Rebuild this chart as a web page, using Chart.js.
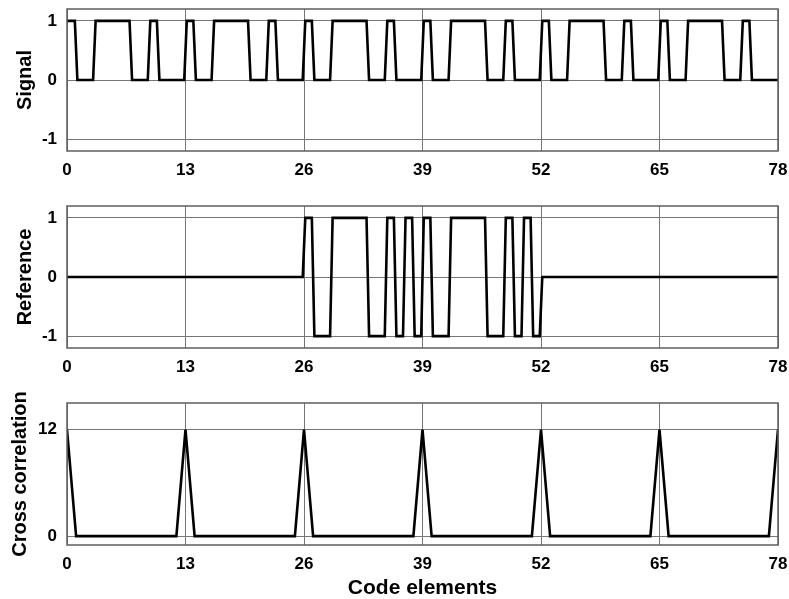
<!DOCTYPE html>
<html>
<head>
<meta charset="utf-8">
<script src="https://cdn.jsdelivr.net/npm/chart.js@4.4.1/dist/chart.umd.min.js"></script>
<style>
  html, body { margin: 0; padding: 0; background: #ffffff; }
  body { width: 789px; height: 599px; position: relative; overflow: hidden; }
  .panel { position: absolute; left: 0; width: 789px; }
  canvas { display: block; }
</style>
</head>
<body>
<div class="panel" style="top:0px;height:195px"><canvas id="c1" width="789" height="195"></canvas></div>
<div class="panel" style="top:195px;height:195px"><canvas id="c2" width="789" height="195"></canvas></div>
<div class="panel" style="top:390px;height:209px"><canvas id="c3" width="789" height="209"></canvas></div>
<script>
// ---------------- DATA ----------------
const xTicks = [0, 13, 26, 39, 52, 65, 78];
const signalYTicks = [-1, 0, 1];
const referenceYTicks = [-1, 0, 1];
const correlationYTicks = [0, 12];

// Received signal, one value per code element (0..77)
const signalChips = [
  1,0,0,1,1,1,1,0,0,1,0,0,0,
  1,0,0,1,1,1,1,0,0,1,0,0,0,
  1,0,0,1,1,1,1,0,0,1,0,0,0,
  1,0,0,1,1,1,1,0,0,1,0,0,0,
  1,0,0,1,1,1,1,0,0,1,0,0,0,
  1,0,0,1,1,1,1,0,0,1,0,0,0
];

// Reference code, one value per code element (0..77)
const referenceChips = [
  0,0,0,0,0,0,0,0,0,0,0,0,0,
  0,0,0,0,0,0,0,0,0,0,0,0,0,
  1,-1,-1,1,1,1,1,-1,-1,1,-1,1,-1,
  1,-1,-1,1,1,1,1,-1,-1,1,-1,1,-1,
  0,0,0,0,0,0,0,0,0,0,0,0,0,
  0,0,0,0,0,0,0,0,0,0,0,0,0
];

// Cross correlation at each lag 0..78
const correlationLags = [
  0,1,2,3,4,5,6,7,8,9,10,11,12,
  13,14,15,16,17,18,19,20,21,22,23,24,25,
  26,27,28,29,30,31,32,33,34,35,36,37,38,
  39,40,41,42,43,44,45,46,47,48,49,50,51,
  52,53,54,55,56,57,58,59,60,61,62,63,64,
  65,66,67,68,69,70,71,72,73,74,75,76,77,78
];
const correlationValues = [
  12,0,0,0,0,0,0,0,0,0,0,0,0,
  12,0,0,0,0,0,0,0,0,0,0,0,0,
  12,0,0,0,0,0,0,0,0,0,0,0,0,
  12,0,0,0,0,0,0,0,0,0,0,0,0,
  12,0,0,0,0,0,0,0,0,0,0,0,0,
  12,0,0,0,0,0,0,0,0,0,0,0,0,12
];

// ---------------- STYLE ----------------
const FONT = "'Liberation Sans', Arial, Helvetica, sans-serif";
const GRID = '#767676';
const BOX = '#5e5e5e';
const LINE = '#000000';
const EDGE = 0.14; // drawn slope of each chip transition (fraction of an element)

// Each chip is held over its element, with a short slanted edge between elements
function chipsToPoints(chips) {
  const pts = [{ x: 0, y: chips[0] }];
  chips.forEach((v, k) => {
    pts.push({ x: k + EDGE, y: v });
    pts.push({ x: k + 1 - EDGE, y: v });
  });
  pts.push({ x: chips.length, y: chips[chips.length - 1] });
  return pts;
}

const boxPlugin = {
  id: 'box',
  afterDraw(chart) {
    const a = chart.chartArea, ctx = chart.ctx;
    ctx.save();
    ctx.strokeStyle = BOX;
    ctx.lineWidth = 1.5;
    ctx.strokeRect(a.left, a.top, a.right - a.left, a.bottom - a.top);
    ctx.restore();
  }
};

function makeChart(id, cfg) {
  const ticksX = cfg.xTicks, ticksY = cfg.yTicks;
  return new Chart(document.getElementById(id), {
    type: 'line',
    data: {
      datasets: [{
        data: cfg.points,
        borderColor: LINE,
        borderWidth: 2.6,
        pointRadius: 0,
        tension: 0,
        fill: false
      }]
    },
    options: {
      responsive: false,
      animation: false,
      devicePixelRatio: 1,
      layout: { padding: { top: cfg.top, right: 11, left: 0, bottom: 0 } },
      plugins: { legend: { display: false }, tooltip: { enabled: false } },
      scales: {
        x: {
          type: 'linear',
          min: 0, max: 78,
          afterBuildTicks: s => { s.ticks = ticksX.map(v => ({ value: v })); },
          afterFit: s => { s.height = cfg.xHeight; s.paddingLeft = 0; s.paddingRight = 0; },
          grid: { color: GRID, lineWidth: 1, drawTicks: false },
          border: { display: false },
          ticks: {
            color: '#000', padding: 9, maxRotation: 0, autoSkip: false,
            font: { family: FONT, size: 17, weight: 'bold' }
          },
          title: cfg.xTitle ? {
            display: true, text: cfg.xTitle, color: '#000',
            font: { family: FONT, size: 21, weight: 'bold', lineHeight: 1 },
            padding: { top: 0, bottom: 0 }
          } : { display: false }
        },
        y: {
          type: 'linear',
          min: cfg.yMin, max: cfg.yMax,
          afterBuildTicks: s => { s.ticks = ticksY.map(v => ({ value: v })); },
          afterFit: s => { s.width = 67; s.paddingTop = 0; s.paddingBottom = 0; },
          grid: { color: GRID, lineWidth: 1, drawTicks: false },
          border: { display: false },
          ticks: {
            color: '#000', padding: 10, autoSkip: false,
            font: { family: FONT, size: 17, weight: 'bold' }
          },
          title: {
            display: true, text: cfg.yTitle, color: '#000',
            font: { family: FONT, size: 20, weight: 'bold', lineHeight: 1.2 },
            padding: { top: cfg.yTitlePad, bottom: 0 }
          }
        }
      }
    },
    plugins: [boxPlugin]
  });
}

makeChart('c1', {
  points: chipsToPoints(signalChips),
  xTicks, yTicks: signalYTicks,
  yMin: -1.2, yMax: 1.2, top: 9, xHeight: 44,
  yTitle: 'Signal', yTitlePad: 13
});

makeChart('c2', {
  points: chipsToPoints(referenceChips),
  xTicks, yTicks: referenceYTicks,
  yMin: -1.2, yMax: 1.2, top: 11, xHeight: 42,
  yTitle: 'Reference', yTitlePad: 13
});

makeChart('c3', {
  points: correlationLags.map((x, i) => ({ x, y: correlationValues[i] })),
  xTicks, yTicks: correlationYTicks,
  yMin: -1, yMax: 15, top: 13, xHeight: 54,
  yTitle: 'Cross correlation', yTitlePad: 8,
  xTitle: 'Code elements'
});
</script>
</body>
</html>
